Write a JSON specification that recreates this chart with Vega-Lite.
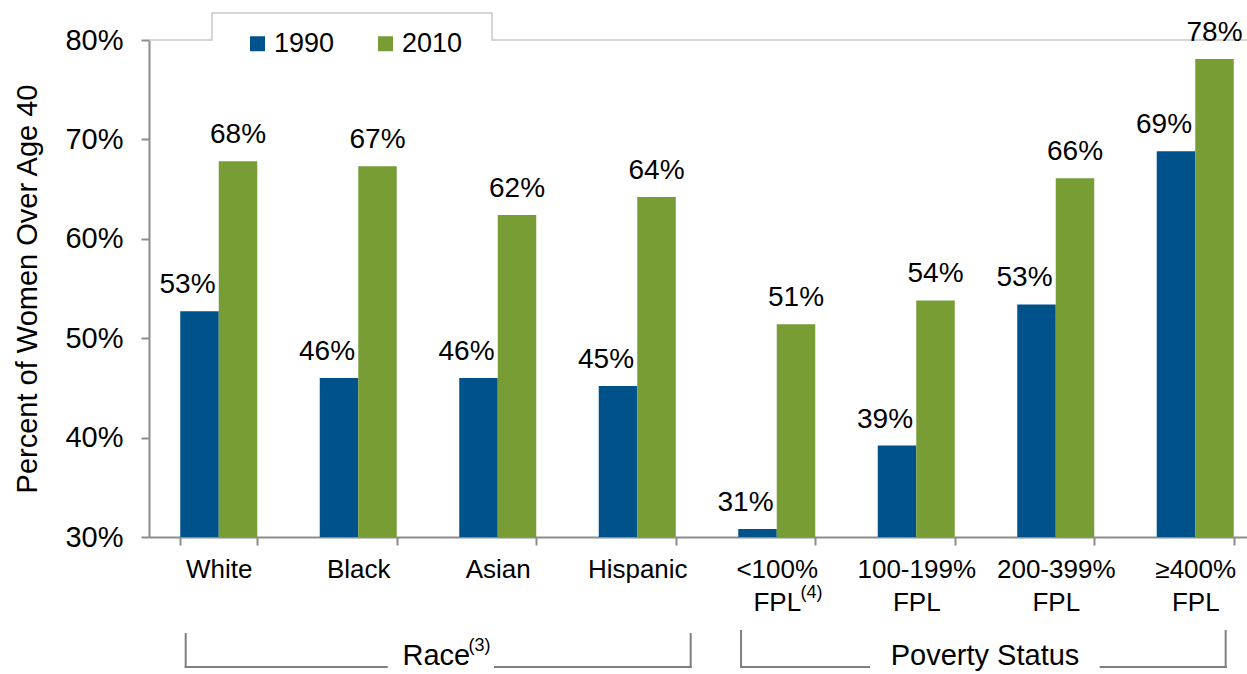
{
  "$schema": "https://vega.github.io/schema/vega-lite/v6.json",
  "width": 1098,
  "height": 497,
  "autosize": {"type": "none"},
  "padding": {"left": 149, "top": 40, "right": 0, "bottom": 137},
  "background": "white",
  "config": {
    "view": {"stroke": null},
    "font": "Liberation Sans",
    "text": {"font": "Liberation Sans", "color": "#000000"},
    "axis": {"labelFont": "Liberation Sans", "titleFont": "Liberation Sans", "labelColor": "#000000", "titleColor": "#000000", "grid": false}
  },
  "datasets": {
    "bars": [
      {"cat": "White", "year": "1990", "value": 0.527},
      {"cat": "White", "year": "2010", "value": 0.678},
      {"cat": "Black", "year": "1990", "value": 0.46},
      {"cat": "Black", "year": "2010", "value": 0.673},
      {"cat": "Asian", "year": "1990", "value": 0.46},
      {"cat": "Asian", "year": "2010", "value": 0.624},
      {"cat": "Hispanic", "year": "1990", "value": 0.452},
      {"cat": "Hispanic", "year": "2010", "value": 0.642},
      {"cat": "<100%|FPL", "year": "1990", "value": 0.308},
      {"cat": "<100%|FPL", "year": "2010", "value": 0.514},
      {"cat": "100-199%|FPL", "year": "1990", "value": 0.392},
      {"cat": "100-199%|FPL", "year": "2010", "value": 0.538},
      {"cat": "200-399%|FPL", "year": "1990", "value": 0.534},
      {"cat": "200-399%|FPL", "year": "2010", "value": 0.661},
      {"cat": "≥400%|FPL", "year": "1990", "value": 0.688},
      {"cat": "≥400%|FPL", "year": "2010", "value": 0.781}
    ],
    "segs": [
      {"x1": 0.263, "x2": 0.263, "y1": 0.2024, "y2": 0.1692},
      {"x1": 0.263, "x2": 1.704, "y1": 0.1692, "y2": 0.1692},
      {"x1": 2.48, "x2": 3.883, "y1": 0.1692, "y2": 0.1692},
      {"x1": 3.883, "x2": 3.883, "y1": 0.2024, "y2": 0.1692},
      {"x1": 4.244, "x2": 4.244, "y1": 0.2054, "y2": 0.1692},
      {"x1": 4.244, "x2": 5.161, "y1": 0.1692, "y2": 0.1692},
      {"x1": 6.822, "x2": 7.718, "y1": 0.1692, "y2": 0.1692},
      {"x1": 7.718, "x2": 7.718, "y1": 0.2054, "y2": 0.1692}
    ],
    "groups": [
      {"gx": 2.06, "gy": 0.1712, "label": "Race"},
      {"gx": 5.993, "gy": 0.1712, "label": "Poverty Status"}
    ],
    "notes": [
      {"gx": 2.29, "gy": 0.1853, "label": "(3)"},
      {"gx": 4.67, "gy": 0.2386, "label": "(4)"}
    ],
    "frame": [
      {"o": 0, "lx": 0, "ly": 0.8},
      {"o": 1, "lx": 0.4516, "ly": 0.8},
      {"o": 2, "lx": 0.4516, "ly": 0.8272},
      {"o": 3, "lx": 2.459, "ly": 0.8272},
      {"o": 4, "lx": 2.459, "ly": 0.8},
      {"o": 5, "lx": 8, "ly": 0.8}
    ]
  },
  "layer": [
    {
      "layer": [
        {
          "data": {"name": "frame"},
          "mark": {"type": "line", "color": "#c8c8c8", "strokeWidth": 1.5},
          "encoding": {
            "x": {"field": "lx", "type": "quantitative", "scale": {"domain": [0, 8], "range": [0, 1116], "nice": false, "zero": false}, "axis": null},
            "y": {"field": "ly", "type": "quantitative", "scale": {"domain": [0.3, 0.8], "nice": false, "zero": false}, "axis": null, "title": null},
            "order": {"field": "o", "type": "quantitative"}
          }
        },
        {
          "data": {"name": "segs"},
          "mark": {"type": "rule", "color": "#7f7f7f", "strokeWidth": 2, "strokeCap": "square"},
          "encoding": {
            "x": {"field": "x1", "type": "quantitative", "axis": null},
            "x2": {"field": "x2"},
            "y": {"field": "y1", "type": "quantitative", "axis": null, "title": null},
            "y2": {"field": "y2"}
          }
        },
        {
          "data": {"name": "groups"},
          "mark": {"type": "text", "fontSize": 29, "align": "center", "baseline": "alphabetic", "color": "#000000"},
          "encoding": {
            "x": {"field": "gx", "type": "quantitative", "axis": null},
            "y": {"field": "gy", "type": "quantitative", "axis": null, "title": null},
            "text": {"field": "label"}
          }
        },
        {
          "data": {"name": "notes"},
          "mark": {"type": "text", "fontSize": 18, "align": "left", "baseline": "alphabetic", "color": "#000000"},
          "encoding": {
            "x": {"field": "gx", "type": "quantitative", "axis": null},
            "y": {"field": "gy", "type": "quantitative", "axis": null, "title": null},
            "text": {"field": "label"}
          }
        }
      ]
    },
    {
      "data": {"name": "bars"},
      "encoding": {
        "x": {
          "field": "cat", "type": "nominal", "sort": null,
          "scale": {"range": [0, 1116], "paddingInner": 0.448, "paddingOuter": 0.224},
          "axis": {
            "title": null, "labelAngle": 0, "labelFontSize": 26, "labelLineHeight": 33,
            "labelExpr": "split(datum.label, '|')", "labelPadding": 11,
            "tickBand": "extent", "tickSize": 8, "tickColor": "#8c8c8c", "tickWidth": 2,
            "domainColor": "#8c8c8c", "domainWidth": 2
          }
        },
        "xOffset": {"field": "year", "type": "nominal", "scale": {"domain": ["1990", "2010"], "paddingInner": 0, "paddingOuter": 0}},
        "y": {
          "field": "value", "type": "quantitative",
          "scale": {"domain": [0.3, 0.8], "nice": false, "zero": false},
          "axis": {
            "title": "Percent of Women Over Age 40", "titleFontSize": 29, "titleFontWeight": "normal", "titlePadding": 22,
            "format": ".0%", "values": [0.3, 0.4, 0.5, 0.6, 0.7, 0.8], "labelFontSize": 29, "labelPadding": 18,
            "tickSize": 8, "tickColor": "#8c8c8c", "tickWidth": 2, "domainColor": "#8c8c8c", "domainWidth": 2
          }
        }
      },
      "layer": [
        {
          "mark": {"type": "bar"},
          "encoding": {
            "y2": {"datum": 0.3},
            "color": {
              "field": "year", "type": "nominal",
              "scale": {"domain": ["1990", "2010"], "range": ["#00538A", "#789D34"]},
              "legend": {
                "title": null, "orient": "none", "legendX": 95, "legendY": -10, "direction": "horizontal",
                "symbolType": "square", "symbolSize": 225, "symbolStrokeWidth": 0, "symbolOpacity": 1,
                "labelFontSize": 27, "labelOffset": 3, "columnPadding": 37, "labelColor": "#000000", "labelFont": "Liberation Sans"
              }
            }
          }
        },
        {
          "transform": [{"filter": "datum.year == '1990'"}],
          "mark": {"type": "text", "fontSize": 28, "dy": -26, "dx": -12, "baseline": "middle", "align": "center"},
          "encoding": {"text": {"field": "value", "type": "quantitative", "format": ".0%"}}
        },
        {
          "transform": [{"filter": "datum.year == '2010'"}],
          "mark": {"type": "text", "fontSize": 28, "dy": -26, "baseline": "middle", "align": "center"},
          "encoding": {"text": {"field": "value", "type": "quantitative", "format": ".0%"}}
        }
      ]
    }
  ],
  "resolve": {"scale": {"x": "independent"}, "axis": {"y": "independent"}}
}
